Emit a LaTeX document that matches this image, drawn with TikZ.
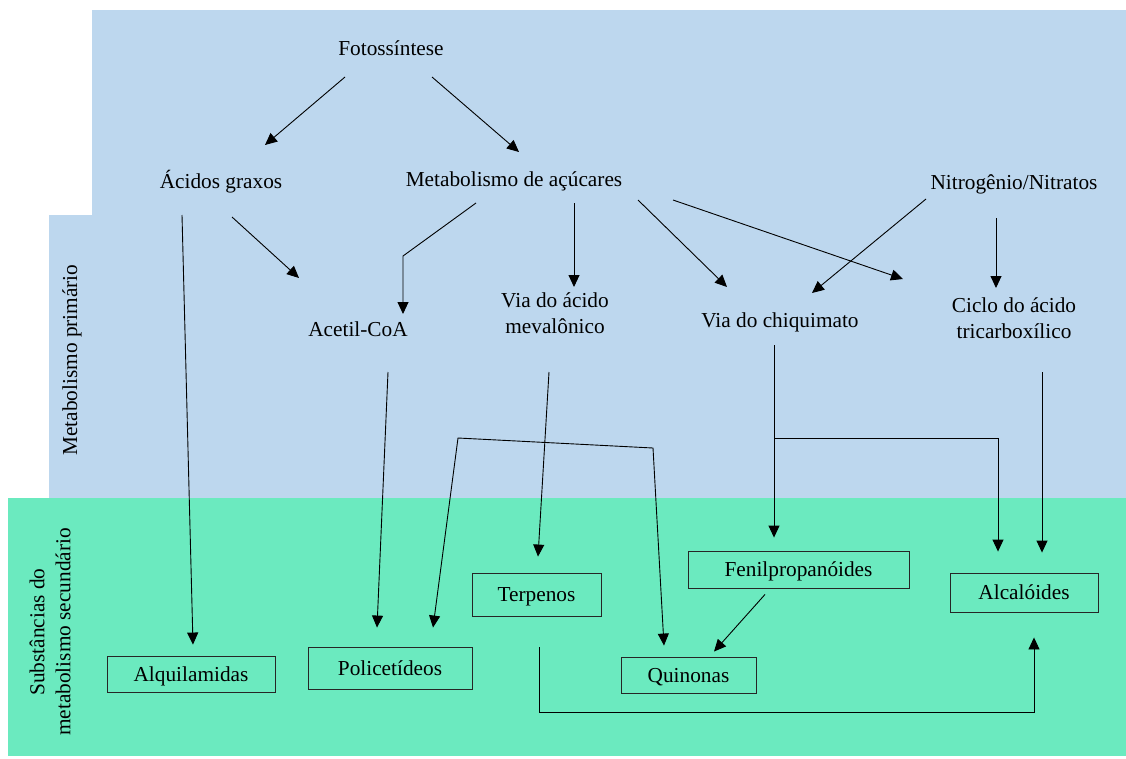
\documentclass[tikz,border=0pt]{standalone}
\usepackage{fontspec}
\setmainfont{Liberation Serif}
\usetikzlibrary{arrows.meta,calc}
\definecolor{primblue}{RGB}{189,215,238}
\definecolor{secgreen}{RGB}{107,234,191}

\begin{document}
\begin{tikzpicture}[
	x=1pt, y=-1pt,
	>={Triangle[length=12pt,width=11pt]},
	every node/.style={font=\fontsize{21.3}{26}\selectfont},
	txt/.style={inner sep=0pt, text height=16pt, text depth=2pt},
	caixa/.style={draw=black!85, line width=0.9pt, inner sep=0pt, text height=16pt, text depth=2pt},
	seta/.style={->, line width=0.9pt},
	]
	\useasboundingbox (0,0) rectangle (1126,758);
	% fundos
	\fill[primblue] (92,10) -- (1126,10) -- (1126,498) -- (49,498) -- (49,215) -- (92,215) -- cycle;
	\fill[secgreen] (8,498) rectangle (1126,756);
	\node[rotate=90] (rotprim) at (72,360) {Metabolismo primário};
	\node[rotate=90, align=center] (rotsec) at (50,632) {Substâncias do\\metabolismo secundário};
	% metabolismo primario
	\node[txt] (foto) at (391,48) {Fotossíntese};
	\node[txt] (acidos) at (221,181) {Ácidos graxos};
	\node[txt] (acucar) at (514,179) {Metabolismo de açúcares};
	\node[txt] (nitro) at (1014,182) {Nitrogênio/Nitratos};
	\node[txt] (acetil) at (358,329) {Acetil-CoA};
	\node[align=center, inner sep=0pt] (meval) at (555,313) {Via do ácido\\mevalônico};
	\node[txt] (chiq) at (780,320) {Via do chiquimato};
	\node[align=center, inner sep=0pt] (ciclo) at (1014,318) {Ciclo do ácido\\tricarboxílico};
	% metabolismo secundario
	\foreach \N/\X/\Y/\W/\H/\T in {alq/191/674/168/36/Alquilamidas,
		poli/390/668/164/42/Policetídeos,
		terp/536.5/594.5/129/43/Terpenos,
		quin/688.5/675/135/36/Quinonas,
		fenil/798.5/569.5/221/37/Fenilpropanóides,
		alca/1024/592.5/148/39/Alcalóides}{
		\node[caixa, minimum width=\W pt, minimum height=\H pt] (\N) at (\X,\Y) {\T};
	}
	% setas
	\draw[seta] ($(foto)+(-46,29)$) -- ($(acidos)+(44,-36)$);
	\draw[seta] ($(foto)+(41,29)$) -- ($(acucar)+(5,-27)$);
	\draw[seta] ($(acidos)+(-39,34)$) -- ($(alq.north)+(2,-11)$);
	\draw[seta] ($(acidos)+(11,36)$) -- ($(acetil)+(-59,-51)$);
	\draw[seta] ($(acucar)+(-38,24)$) -- ++(-73,53) -- ($(acetil)+(45,-15)$);
	\draw[seta] ($(acucar)+(60,24)$) -- ($(meval)+(19,-26)$);
	\draw[seta] ($(acucar)+(124,21)$) -- ($(chiq)+(-53,-33)$);
	\draw[seta] ($(acucar)+(159,21)$) -- ($(ciclo)+(-111,-39)$);
	\draw[seta] ($(nitro)+(-88,17)$) -- ($(chiq)+(32,-27)$);
	\draw[seta] ($(nitro)+(-18,36)$) -- ($(ciclo)+(-18,-30)$);
	\draw[seta] ($(acetil)+(30,43)$) -- ($(poli.north)+(-13,-19)$);
	\draw[seta] ($(meval)+(-6,59)$) -- ($(terp.north)+(1.5,-16)$);
	\coordinate (ponteE) at (458,438);
	\coordinate (ponteD) at (653,448);
	\draw[<->, line width=0.9pt] ($(poli.north)+(43,-19)$) -- (ponteE) -- (ponteD) -- ($(quin.north)+(-24.5,-11)$);
	\coordinate (ramo) at ($(chiq)+(-6,118)$);
	\draw[seta] ($(chiq)+(-6,25)$) -- ($(fenil.north)+(-24.5,-13)$);
	\draw[seta] (ramo) -| ($(alca.north)+(-26,-21)$);
	\draw[seta] ($(ciclo)+(28,54)$) -- ($(alca.north)+(18,-20)$);
	\draw[seta] ($(fenil.south)+(-33.5,6)$) -- ($(quin.north)+(25.5,-5)$);
	\draw[seta] ($(terp.south)+(2.5,31)$) -- ++(0,65) -| ($(alca.south)+(10,25)$);
\end{tikzpicture}
\end{document}
